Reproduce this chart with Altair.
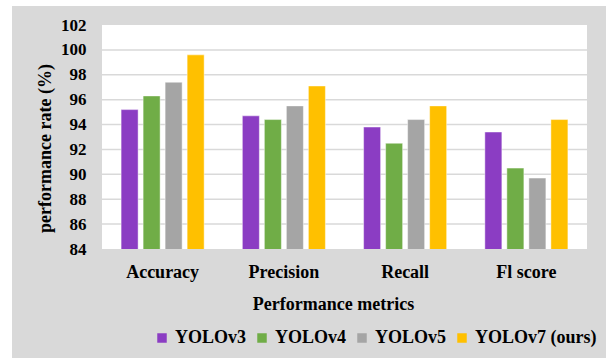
import altair as alt
import pandas as pd

# Performance of YOLO variants on four evaluation metrics
metrics = ["Accuracy", "Precision", "Recall", "Fl score"]
models = ["YOLOv3", "YOLOv4", "YOLOv5", "YOLOv7 (ours)"]
yolov3 = [95.2, 94.7, 93.8, 93.4]
yolov4 = [96.3, 94.4, 92.5, 90.5]
yolov5 = [97.4, 95.5, 94.4, 89.7]
yolov7 = [99.6, 97.1, 95.5, 94.4]
colors = ["#8b3dc3", "#70ad47", "#a5a5a5", "#ffc000"]
y_ticks = [84, 86, 88, 90, 92, 94, 96, 98, 100, 102]
grid_ticks = [86, 88, 90, 92, 94, 96, 98, 100]

rows = []
for model, series in zip(models, [yolov3, yolov4, yolov5, yolov7]):
    for metric, v in zip(metrics, series):
        rows.append({"metric": metric, "model": model, "value": v})
df = pd.DataFrame(rows)

W, H = 485, 224
FONT = "Liberation Serif"
y_scale = alt.Scale(domain=[84, 102], nice=False, zero=False)
y_axis = alt.Axis(
    title="performance rate (%)",
    values=y_ticks,
    labelFont=FONT, labelFontSize=17, labelFontWeight="bold",
    labelColor="black", labelPadding=16,
    domain=False, ticks=False, grid=False, zindex=1,
    titleFont=FONT, titleFontSize=18, titleFontWeight="bold",
    titleColor="black", titleX=-57, titleY=123,
    titleAlign="center", titleBaseline="middle",
)

one = pd.DataFrame({"k": [0]})

# grey outer panel and white plotting panel
frame = alt.Chart(one).mark_rect(color="#d9d9d9").encode(
    x=alt.value(-90), x2=alt.value(W + 19),
    y=alt.value(-19), y2=alt.value(H + 109),
)
panel = alt.Chart(one).mark_rect(color="white").encode(
    x=alt.value(0), x2=alt.value(W), y=alt.value(0), y2=alt.value(H)
)

grid = alt.Chart(pd.DataFrame({"tick": grid_ticks})).mark_rule(
    color="#d9d9d9", strokeWidth=1.5
).encode(y=alt.Y("tick:Q", scale=y_scale, axis=y_axis))

bars = alt.Chart(df).mark_bar(
    stroke="white", strokeWidth=1, strokeOpacity=0.45, clip=True
).encode(
    x=alt.X(
        "metric:N",
        sort=metrics,
        scale=alt.Scale(paddingInner=0.315, paddingOuter=0.1575),
        axis=alt.Axis(
            title="Performance metrics",
            labelAngle=0,
            labelFont=FONT, labelFontSize=18, labelFontWeight="bold",
            labelColor="black", labelBaseline="alphabetic", labelPadding=28.5,
            domain=False, ticks=False, grid=False, zindex=1,
            titleFont=FONT, titleFontSize=18, titleFontWeight="bold",
            titleColor="black", titleX=231, titleY=60,
            titleAlign="center", titleBaseline="alphabetic",
        ),
    ),
    xOffset=alt.XOffset(
        "model:N", sort=models,
        scale=alt.Scale(paddingInner=0.227, paddingOuter=0),
    ),
    y=alt.Y("value:Q", scale=y_scale, axis=y_axis),
    color=alt.Color(
        "model:N",
        sort=models,
        scale=alt.Scale(domain=models, range=colors),
        legend=alt.Legend(
            title=None,
            orient="none", legendX=51, legendY=304,
            direction="horizontal", columns=4,
            symbolType="square", symbolSize=90, symbolStrokeWidth=0,
            labelFont=FONT, labelFontSize=18, labelFontWeight="bold",
            labelColor="black", labelOffset=4, columnPadding=6,
            padding=0, zindex=1,
        ),
    ),
)

chart = alt.layer(frame, panel, grid, bars).properties(
    width=W, height=H,
    autosize=alt.AutoSizeParams(type="none"),
    padding={"left": 102, "top": 25, "right": 19, "bottom": 111},
    background="white",
).configure_view(stroke=None)

chart.save("out.html", embed_options={"renderer": "svg", "actions": False})
